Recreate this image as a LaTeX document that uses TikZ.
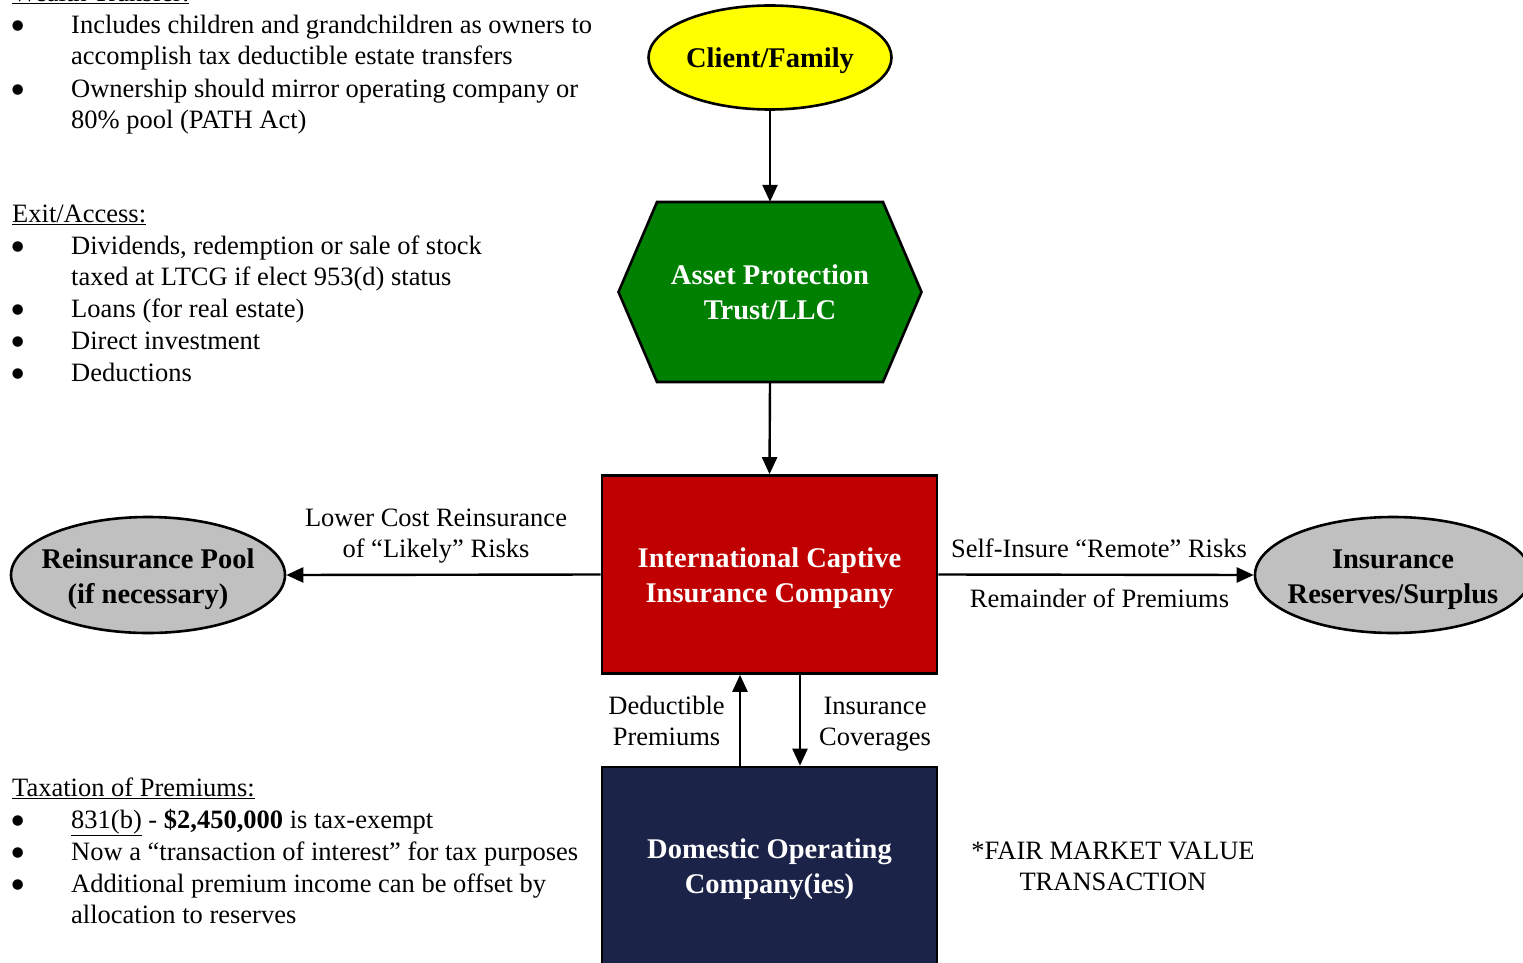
\documentclass[tikz,border=0pt]{standalone}
\usepackage{fontspec}
\setmainfont{Liberation Serif}
\usetikzlibrary{arrows.meta,shapes.geometric,calc}
\definecolor{famyellow}{HTML}{FFFF00}
\definecolor{trustgreen}{HTML}{008000}
\definecolor{captivered}{HTML}{C00000}
\definecolor{poolgray}{HTML}{C0C0C0}
\definecolor{opnavy}{HTML}{1C2349}
\newcommand\bodyfont{\fontsize{26.5}{31}\selectfont}
\newcommand\headfont{\fontsize{28.5}{35}\selectfont\bfseries}
% extra room above the first line of a boxed title
\newcommand\topgap{\rule{0pt}{28pt}}
% list bullet, enlarged and centred on the x-height (no height or depth of its own)
\newcommand\listdot{\raisebox{-7pt}[0pt][0pt]{\scalebox{1.65}{•}}}
\begin{document}
\begin{tikzpicture}[x=1pt,y=-1pt,
  outline/.style={draw=black,line width=2.6pt},
  oval/.style={outline,ellipse,inner sep=0pt,font=\headfont,align=center},
  panel/.style={outline,rectangle,inner sep=0pt,font=\headfont,text=white,align=center,minimum width=335pt},
  flow/.style={line width=2.4pt,-{Triangle[length=17pt,width=15pt]}},
  note/.style={font=\bodyfont,align=center,inner sep=0pt},
  bodyline/.style={font=\bodyfont,anchor=base west,inner sep=0pt},
  bulletmark/.style={font=\bodyfont,anchor=base west,inner sep=0pt}
]
\useasboundingbox (0,0) rectangle (1523,963);
\clip (0,0) rectangle (1523,963);

% --- central chain ---
\node[oval,fill=famyellow,minimum width=243pt,minimum height=104pt,text depth=0pt] (family) at (770,57.5) {Client/Family};

\coordinate (trustc) at (770,292);
\draw[outline,fill=trustgreen,line join=miter]
  ($(trustc)+(-151.5,0)$) -- ($(trustc)+(-113,-90)$) -- ($(trustc)+(113,-90)$)
  -- ($(trustc)+(151.5,0)$) -- ($(trustc)+(113,90)$) -- ($(trustc)+(-113,90)$) -- cycle;
\node[inner sep=0pt,minimum width=303pt,minimum height=180pt,font=\headfont,text=white,align=center] (trust) at (trustc) {Asset Protection\\Trust/LLC};

\node[panel,fill=captivered,minimum height=198pt] (captive) at (769.5,574.5) {\topgap International Captive\\Insurance Company};
\node[panel,fill=opnavy,minimum height=204pt] (operating) at (769.5,869) {Domestic Operating\\Company(ies)};

\node[oval,fill=poolgray,inner xsep=-10pt,minimum width=274pt,minimum height=116pt] (pool) at (148,575) {\topgap Reinsurance Pool\\(if necessary)};
\node[oval,fill=poolgray,inner xsep=-10pt,minimum width=276pt,minimum height=116pt] (reserves) at (1393,575) {\topgap Insurance\\Reserves/Surplus};

% --- connectors ---
\draw[flow] (family.south) -- (trust.north);
\draw[flow] (trust.south) -- (captive.north);
\draw[flow] (captive.west) -- (pool.east);
\draw[flow] (captive.east) -- (reserves.west);
\draw[flow] ([xshift=-29.5pt]operating.north) -- ([xshift=-29.5pt]captive.south);
\draw[flow] ([xshift=30.5pt]captive.south) -- ([xshift=30.5pt]operating.north);

% --- connector labels ---
\node[note] (lowercost) at (436,535.8) {\strut Lower Cost Reinsurance\\\strut of “Likely” Risks};
\node[note] (selfinsure) at (1099,550.8) {\strut Self-Insure “Remote” Risks};
\node[note] (remainder) at (1099.5,600.8) {\strut Remainder of Premiums};
\node[note] (deductible) at (666.5,723.3) {\strut Deductible\\\strut Premiums};
\node[note] (coverages) at (875,723.3) {\strut Insurance\\\strut Coverages};
\node[note] (fmv) at (1113,868.8) {\strut *FAIR MARKET VALUE\\\strut TRANSACTION};

% --- wealth transfer notes ---
\node[bodyline] (wealthhead) at (12,1.5) {\underline{Wealth Transfer:}};
\node[bulletmark] (wb1) at (10.5,34) {\listdot};
\node[bodyline] (wl1) at (71,34) {Includes children and grandchildren as owners to};
\node[bodyline] (wl2) at (71,65) {accomplish tax deductible estate transfers};
\node[bulletmark] (wb2) at (10.5,98) {\listdot};
\node[bodyline] (wl3) at (71,98) {Ownership should mirror operating company or};
\node[bodyline] (wl4) at (71,129) {80\% pool (PATH Act)};

% --- exit / access notes ---
\node[bodyline] (exithead) at (12,222) {\underline{Exit/Access:}};
\node[bulletmark] (eb1) at (10.5,254) {\listdot};
\node[bodyline] (el1) at (71,254) {Dividends, redemption or sale of stock};
\node[bodyline] (el2) at (71,285) {taxed at LTCG if elect 953(d) status};
\node[bulletmark] (eb2) at (10.5,317) {\listdot};
\node[bodyline] (el3) at (71,317) {Loans (for real estate)};
\node[bulletmark] (eb3) at (10.5,349) {\listdot};
\node[bodyline] (el4) at (71,349) {Direct investment};
\node[bulletmark] (eb4) at (10.5,381) {\listdot};
\node[bodyline] (el5) at (71,381) {Deductions};

% --- taxation notes ---
\node[bodyline] (taxhead) at (12,796) {\underline{Taxation of Premiums:}};
\node[bulletmark] (tb1) at (10.5,828) {\listdot};
\node[bodyline] (tl1) at (71,828) {\underline{831(b)} - \textbf{\$2,450,000} is tax-exempt};
\node[bulletmark] (tb2) at (10.5,860) {\listdot};
\node[bodyline] (tl2) at (71,860) {Now a “transaction of interest” for tax purposes};
\node[bulletmark] (tb3) at (10.5,892) {\listdot};
\node[bodyline] (tl3) at (71,892) {Additional premium income can be offset by};
\node[bodyline] (tl4) at (71,923) {allocation to reserves};
\end{tikzpicture}
\end{document}
